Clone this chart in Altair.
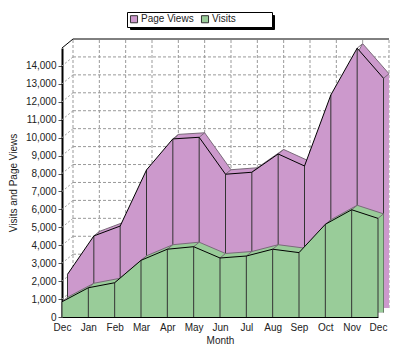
import altair as alt
import pandas as pd

# ---- data ----
months = ["Dec", "Jan", "Feb", "Mar", "Apr", "May", "Jun", "Jul", "Aug", "Sep", "Oct", "Nov", "Dec"]
page_views = [2130, 4270, 4820, 7950, 9680, 9770, 7710, 7820, 8840, 8170, 12130, 14740, 13060]
visits = [850, 1630, 1910, 3160, 3780, 3920, 3290, 3400, 3780, 3590, 5170, 5980, 5500]
y_ticks = list(range(0, 15000, 1000))
y_max = 15000
series_names = ["Page Views", "Visits"]
series_colors = ["#CC99CC", "#99CC99"]

idx = list(range(len(months)))
last = len(months) - 1
df = pd.DataFrame({"i": idx, "month": months, "pv": page_views, "v": visits,
                   "zero": 0, "top": y_max})
grid_df = pd.DataFrame({"t": y_ticks[1:], "x0": 0, "x1": last})
top_df = pd.DataFrame({"t": [y_max], "x0": [0], "x1": [last]})

FONT = "Liberation Sans"
DX, DY = 11, -9          # full depth of the 3-D box
HX, HY = DX / 2, DY / 2  # depth of one series row

x_scale = alt.Scale(domain=[0, last], nice=False, zero=False)
y_scale = alt.Scale(domain=[0, y_max], nice=False)
label_expr = "[" + ",".join("'%s'" % m for m in months) + "][datum.value]"

x_axis = alt.Axis(values=idx, labelExpr=label_expr, title="Month", ticks=False,
                  labelPadding=5, titlePadding=3, domainColor="black",
                  labelFlush=False, labelOverlap=False, grid=False)
y_axis = alt.Axis(values=y_ticks, labelExpr="format(datum.value, ',')",
                  title="Visits and Page Views",
                  tickSize=4, tickColor="#555", domainColor="black", domainWidth=2,
                  labelPadding=2, titlePadding=7, labelOverlap=False, grid=False)


def X(f):
    return alt.X(f, type="quantitative", scale=x_scale, axis=x_axis, title="Month")


def Y(f):
    return alt.Y(f, type="quantitative", scale=y_scale, axis=y_axis,
                 title="Visits and Page Views")


base = alt.Chart(df)

# ---- back wall / left wall grid ----
hgrid = alt.Chart(grid_df).mark_rule(color="#999", strokeDash=[3, 2], strokeWidth=1,
                                     xOffset=DX, x2Offset=DX, yOffset=DY, y2Offset=DY).encode(
    x=X("x0"), x2="x1:Q", y=Y("t"))
vgrid = base.mark_rule(color="#999", strokeDash=[3, 2], strokeWidth=1,
                       xOffset=DX, x2Offset=DX, yOffset=DY, y2Offset=DY).encode(
    x=X("i"), y=Y("zero"), y2="top:Q")
lwall = alt.Chart(grid_df).mark_rule(color="#999", strokeDash=[2, 2], strokeWidth=1,
                                     x2Offset=DX, y2Offset=DY).encode(
    x=X("x0"), x2="x0:Q", y=Y("t"), y2="t:Q")
top_edge = alt.Chart(top_df).mark_rule(
    color="black", strokeWidth=1, xOffset=DX, x2Offset=DX, yOffset=DY, y2Offset=DY).encode(
    x=X("x0"), x2="x1:Q", y=Y("t"))
top_diag = alt.Chart(top_df).mark_rule(
    color="black", strokeWidth=1, x2Offset=DX, y2Offset=DY).encode(
    x=X("x0"), x2="x0:Q", y=Y("t"), y2="t:Q")

NB = "\u00a0" * 12 + "\u200b"
pad_label = "datum.label == 'Visits' ? 'Visits%s' : datum.label" % NB
legend_common = dict(title=None, orient="none", direction="horizontal", padding=2,
                     symbolType="square", symbolSize=50, symbolStrokeWidth=1,
                     labelFont=FONT, labelFontSize=10, columnPadding=5, labelOffset=2,
                     labelExpr=pad_label)
legend = alt.Legend(legendX=65, legendY=-36, fillColor="white", strokeColor="black",
                    symbolStrokeColor="#333", labelColor="#222", zindex=2, **legend_common)
shadow_legend = alt.Legend(legendX=68, legendY=-33, fillColor="black", strokeColor="black",
                           symbolOpacity=0, labelOpacity=0, zindex=1, **legend_common)
color_scale = alt.Scale(domain=series_names, range=series_colors)

# invisible layer that only carries the legend's drop shadow (reversed domain so it is not merged)
shadow = base.transform_calculate(series2="'Page Views'").mark_point(opacity=0).encode(
    x=X("i"), y=Y("pv"),
    shape=alt.Shape("series2:N", scale=alt.Scale(domain=series_names[::-1],
                                                  range=["square", "square"]),
                    legend=shadow_legend))


def series_layers(field, name, color, front_dx, front_dy):
    back_dx, back_dy = front_dx + HX, front_dy + HY
    back = base.mark_area(color=color, xOffset=back_dx, yOffset=back_dy,
                          y2Offset=back_dy).encode(x=X("i"), y=Y(field), y2="zero:Q")
    back_line = base.mark_line(color="#7a6a7a", strokeWidth=1, xOffset=back_dx,
                               yOffset=back_dy).encode(x=X("i"), y=Y(field))
    cross = base.mark_rule(color="#7a6a7a", strokeWidth=1, xOffset=front_dx, yOffset=front_dy,
                           x2Offset=back_dx, y2Offset=back_dy).encode(
        x=X("i"), x2="i:Q", y=Y(field), y2=field + ":Q")
    front = base.transform_calculate(series="'%s'" % name).mark_area(
        xOffset=front_dx, yOffset=front_dy, y2Offset=front_dy, opacity=1).encode(
        x=X("i"), y=Y(field), y2="zero:Q",
        color=alt.Color("series:N", scale=color_scale, legend=legend))
    verts = base.mark_rule(color="#333", strokeWidth=1, xOffset=front_dx, yOffset=front_dy,
                           y2Offset=front_dy).encode(x=X("i"), y=Y(field), y2="zero:Q")
    top = base.mark_line(color="black", strokeWidth=1, xOffset=front_dx,
                         yOffset=front_dy).encode(x=X("i"), y=Y(field))
    return [back, back_line, cross, front, verts, top]


layers = [hgrid, vgrid, lwall, top_edge, top_diag, shadow]
layers += series_layers("pv", "Page Views", series_colors[0], HX, HY)
layers += series_layers("v", "Visits", series_colors[1], 0, 0)

chart = alt.layer(*layers).properties(
    width=316, height=269,
    autosize=alt.AutoSizeParams(type="none"),
    padding={"left": 62, "top": 48, "right": 22, "bottom": 39},
).configure_view(stroke=None).configure_axis(
    labelFont=FONT, labelFontSize=10, labelColor="#222",
    titleFont=FONT, titleFontSize=10, titleFontWeight="normal", titleColor="#222",
)

chart.save("out.html", embed_options={"renderer": "svg", "actions": False})
